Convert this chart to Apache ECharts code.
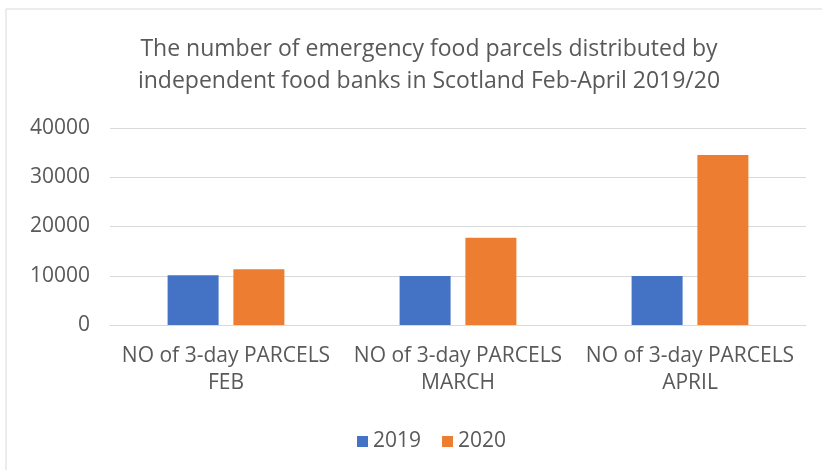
<!DOCTYPE html>
<html>
<head>
<meta charset="utf-8">
<script src="https://cdn.jsdelivr.net/npm/echarts@6/dist/echarts.min.js"></script>
<style>
  html, body { margin: 0; padding: 0; background: #fff; }
  #chart { width: 822px; height: 470px; }
</style>
</head>
<body>
<div id="chart"></div>
<script>
// data
var categories = ['NO of 3-day PARCELS\nFEB', 'NO of 3-day PARCELS\nMARCH', 'NO of 3-day PARCELS\nAPRIL'];
var values2019 = [10100, 9950, 9950];
var values2020 = [11300, 17700, 34500];
var yTicks = [0, 10000, 20000, 30000, 40000];

var textColor = '#595959';
var font = 'Open Sans';

var chart = echarts.init(document.getElementById('chart'));
var option = {
    backgroundColor: '#fff',
    animation: false,
    title: {
        text: 'The number of emergency food parcels distributed by\nindependent food banks in Scotland Feb-April 2019/20',
        left: 424,
        textAlign: 'center',
        top: 28,
        textStyle: {
            color: textColor,
            fontFamily: font,
            fontWeight: 'normal',
            fontSize: 23,
            lineHeight: 32
        }
    },
    graphic: [{
        type: 'rect',
        shape: { x: 6, y: 9, width: 830, height: 480 },
        style: { fill: 'none', stroke: '#d9d9d9', lineWidth: 1 },
        silent: true
    }],
    legend: {
        data: ['2019', '2020'],
        left: 352,
        top: 426,
        itemWidth: 11,
        itemHeight: 11,
        itemGap: 21,
        icon: 'rect',
        textStyle: { color: textColor, fontFamily: font, fontSize: 21 }
    },
    grid: {
        left: 110,
        right: 16,
        top: 128,
        bottom: 145,
        containLabel: false
    },
    xAxis: {
        type: 'category',
        data: categories,
        axisTick: { show: false },
        axisLine: { lineStyle: { color: '#d9d9d9', width: 1 } },
        axisLabel: {
            color: textColor,
            fontFamily: font,
            fontSize: 21,
            lineHeight: 27,
            margin: 18,
            interval: 0
        }
    },
    yAxis: {
        type: 'value',
        min: yTicks[0],
        max: yTicks[yTicks.length - 1],
        interval: 10000,
        axisLine: { show: false },
        axisTick: { show: false },
        splitLine: { lineStyle: { color: '#d9d9d9', width: 1 } },
        axisLabel: {
            color: textColor,
            fontFamily: font,
            fontSize: 21,
            margin: 20,
            formatter: function (v) { return String(v); }
        }
    },
    series: [
        {
            name: '2019',
            type: 'bar',
            data: values2019,
            barWidth: 51,
            barGap: '29%',
            itemStyle: { color: '#4472c4' }
        },
        {
            name: '2020',
            type: 'bar',
            data: values2020,
            barWidth: 51,
            itemStyle: { color: '#ed7d31' }
        }
    ]
};
chart.setOption(option);
</script>
</body>
</html>
